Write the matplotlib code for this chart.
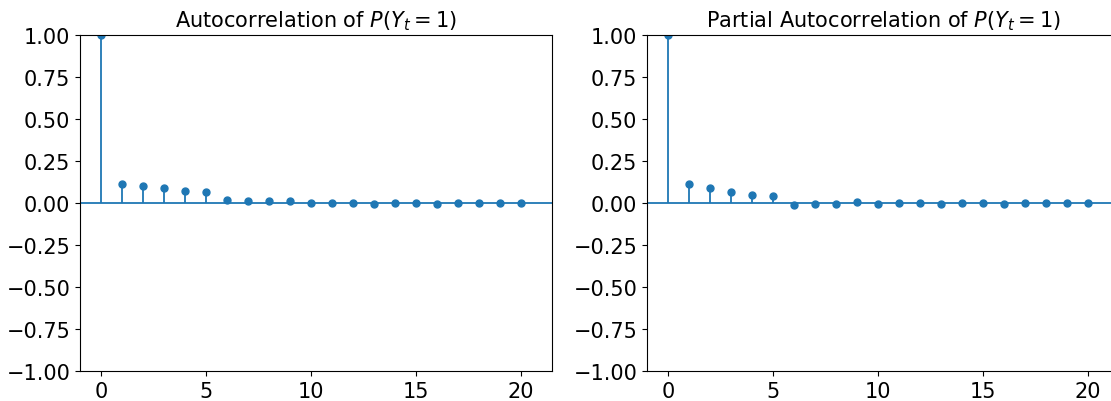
import numpy as np
import matplotlib
matplotlib.use("Agg")
import matplotlib.pyplot as plt

lags = np.arange(21)
acf_vals = [1.0, 0.113, 0.101, 0.089, 0.073, 0.065, 0.018, 0.013, 0.010, 0.012,
            0.0, 0.0, 0.002, -0.003, 0.0, 0.0, -0.003, 0.001, 0.001, 0.001, 0.001]
pacf_vals = [1.0, 0.113, 0.089, 0.068, 0.050, 0.040, -0.010, -0.005, -0.004, 0.003,
             -0.004, -0.002, 0.001, -0.004, 0.0, 0.0, -0.004, 0.001, 0.001, 0.0, 0.001]
titles = [r"Autocorrelation of $P(Y_t = 1)$", r"Partial Autocorrelation of $P(Y_t = 1)$"]

plt.rcParams["font.size"] = 15

fig = plt.figure(figsize=(11.11, 4.02), dpi=100)
# right panel runs past the figure edge, as in the cropped original
ax1 = fig.add_axes([80 / 1111, 30 / 402, 472 / 1111, 336 / 402])
ax2 = fig.add_axes([647 / 1111, 30 / 402, 472 / 1111, 336 / 402])

for ax, vals, title in zip([ax1, ax2], [acf_vals, pacf_vals], titles):
    ax.vlines(lags, 0, vals, color="C0", lw=1.3)
    ax.plot(lags, vals, "o", color="C0", markersize=5)
    ax.axhline(0, color="C0", lw=1.3)
    ax.set_xlim(-1, 21.5)
    ax.set_ylim(-1, 1)
    ax.set_yticks(np.arange(-1, 1.01, 0.25))
    ax.set_xticks([0, 5, 10, 15, 20])
    ax.set_title(title, fontsize=15)

fig.savefig("out.png", dpi=100)
